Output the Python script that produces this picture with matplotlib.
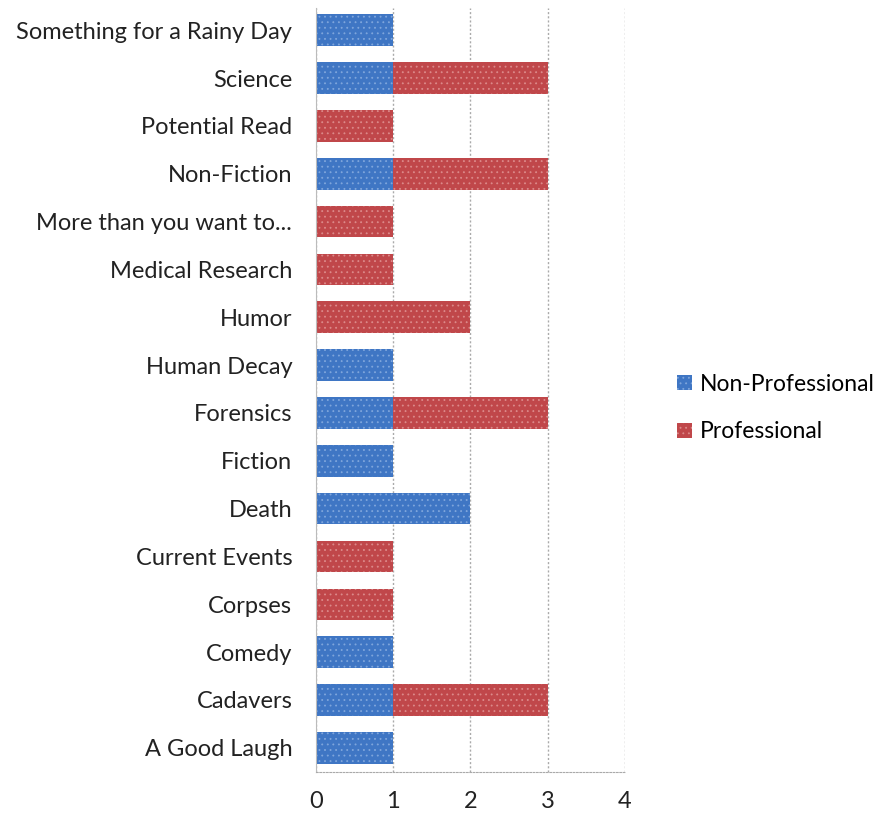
import numpy as np
import matplotlib.pyplot as plt
from matplotlib.patches import Patch

# Data, bottom to top as drawn
categories = ['A Good Laugh', 'Cadavers', 'Comedy', 'Corpses', 'Current Events',
              'Death', 'Fiction', 'Forensics', 'Human Decay', 'Humor',
              'Medical Research', 'More than you want to...', 'Non-Fiction',
              'Potential Read', 'Science', 'Something for a Rainy Day']
non_professional = [1, 1, 1, 0, 0, 2, 1, 1, 1, 0, 0, 0, 1, 0, 1, 1]
professional = [0, 2, 0, 1, 1, 0, 0, 2, 0, 2, 1, 1, 2, 1, 2, 0]

blue = '#3f76c4'
red = '#c0474a'

plt.rcParams['font.family'] = ['Lato', 'DejaVu Sans']
plt.rcParams['hatch.linewidth'] = 0.6

fig = plt.figure(figsize=(8.85, 8.21), dpi=100)
ax = fig.add_axes([0.357, 0.06, 0.349, 0.93])

y = np.arange(len(categories))
h = 0.66
ax.barh(y, non_professional, height=h, color=blue, edgecolor='#7fa6dc',
        hatch='...', linewidth=0)
ax.barh(y, professional, height=h, left=non_professional, color=red,
        edgecolor='#dc8a8a', hatch='...', linewidth=0)

ax.set_xlim(0, 4)
ax.set_ylim(-0.5, len(categories) - 0.54)
ax.set_xticks(range(5))
ax.set_yticks(y)
ax.set_yticklabels(categories)
ax.tick_params(axis='both', length=0, labelsize=17, colors='#222222')
ax.tick_params(axis='y', pad=17)
ax.tick_params(axis='x', pad=14)

ax.grid(axis='x', color='#aaaaaa', linestyle=(0, (1.5, 1.5)), linewidth=1)
ax.set_axisbelow(True)
for s in ['top', 'right']:
    ax.spines[s].set_visible(False)
ax.spines['bottom'].set_color('#aaaaaa')
ax.spines['bottom'].set_linestyle((0, (1.5, 1.5)))
ax.spines['left'].set_color('#bbbbbb')

handles = [Patch(facecolor=blue, edgecolor='#7fa6dc', hatch='...', linewidth=0, label='Non-Professional'),
           Patch(facecolor=red, edgecolor='#dc8a8a', hatch='...', linewidth=0, label='Professional')]
fig.legend(handles=handles, loc='center left', bbox_to_anchor=(0.742, 0.503),
           frameon=False, fontsize=16.5, handlelength=0.65, handleheight=0.65,
           handletextpad=0.35, labelspacing=1.15)

fig.savefig('out.png', dpi=100)
